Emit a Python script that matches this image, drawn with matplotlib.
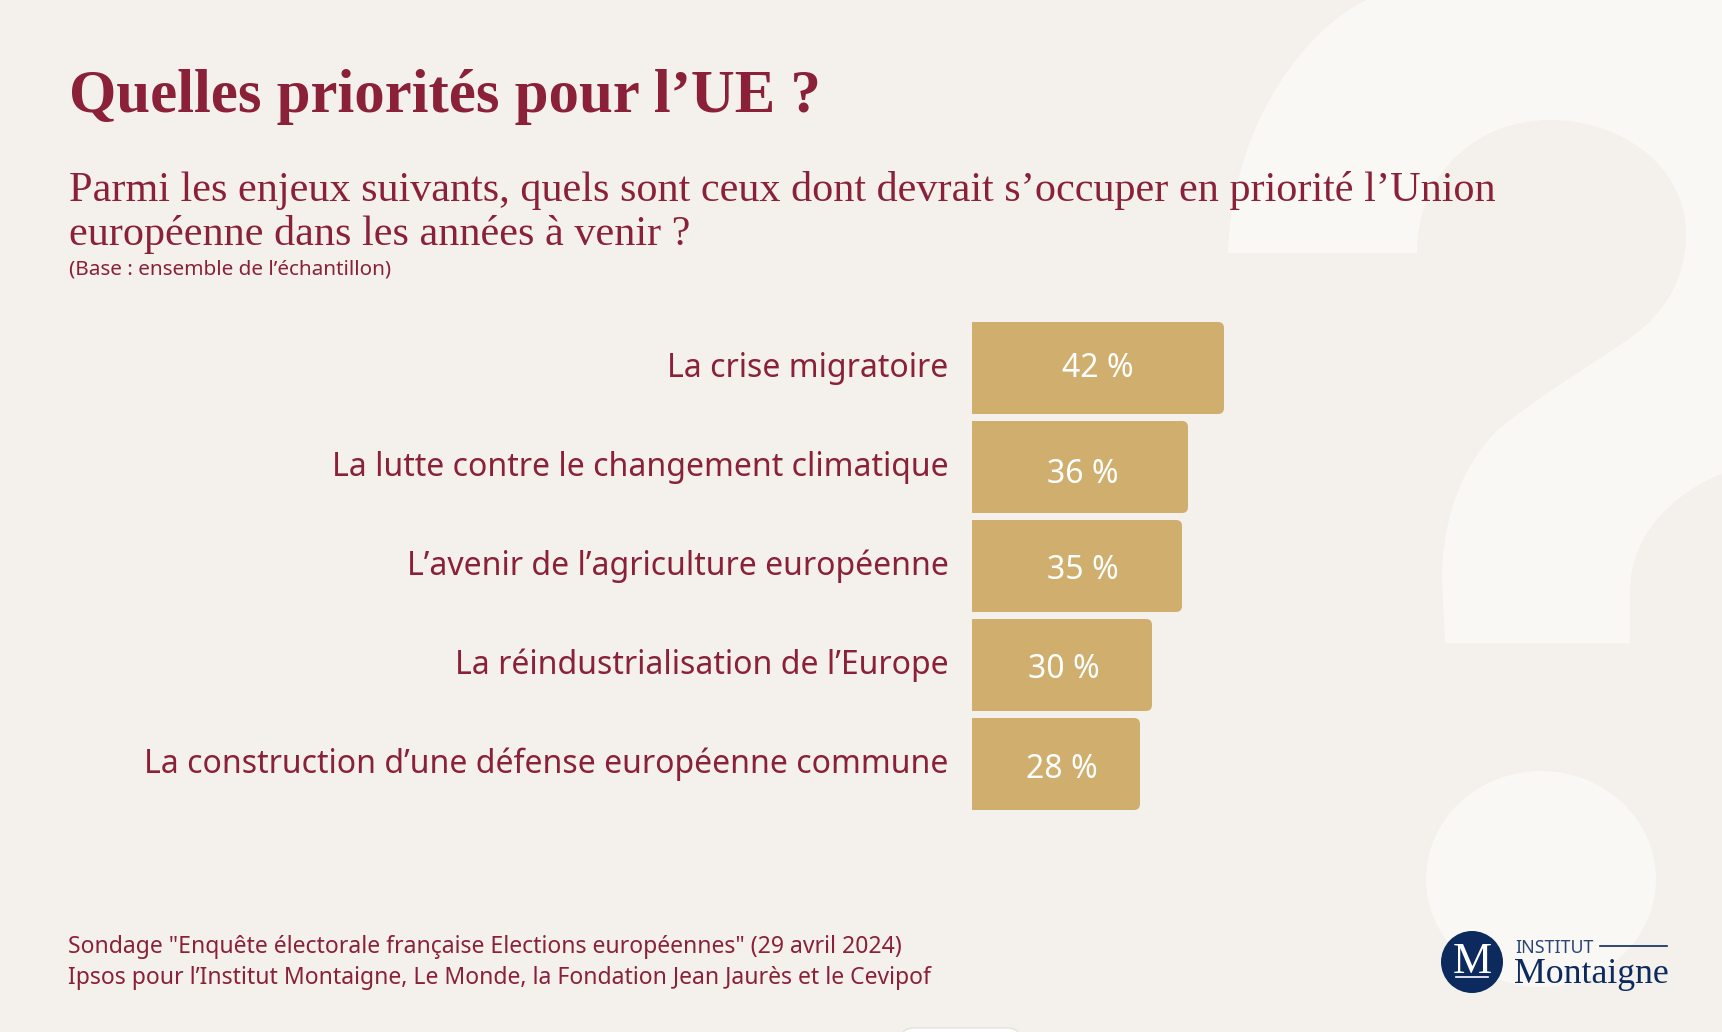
import matplotlib
matplotlib.use('Agg')
import matplotlib.pyplot as plt
from matplotlib.patches import Circle, Ellipse, FancyBboxPatch, PathPatch
from matplotlib.path import Path
from matplotlib.transforms import ScaledTranslation

categories = ['La crise migratoire',
              'La lutte contre le changement climatique',
              'L’avenir de l’agriculture européenne',
              'La réindustrialisation de l’Europe',
              'La construction d’une défense européenne commune']
values = [42, 36, 35, 30, 28]
value_labels = ['42 %', '36 %', '35 %', '30 %', '28 %']

title = 'Quelles priorités pour l’UE ?'
subtitle = ['Parmi les enjeux suivants, quels sont ceux dont devrait s’occuper en priorité l’Union',
            'européenne dans les années à venir ?']
base_note = '(Base : ensemble de l’échantillon)'
source = ['Sondage "Enquête électorale française Elections européennes" (29 avril 2024)',
          'Ipsos pour l’Institut Montaigne, Le Monde, la Fondation Jean Jaurès et le Cevipof']

W, H = 1722, 1032
BG = '#F4F1EC'
PALE = '#F9F8F4'
GOLD = '#D0AE6E'
WINE = '#8A2139'
NAVY = '#0C2A5E'
SERIF = 'Liberation Serif'
SANS = 'Noto Sans'

fig = plt.figure(figsize=(W / 100, H / 100), dpi=100, facecolor=BG)


def px(x, y):
    return x / W, 1 - y / H


def put(x, y, s, size, **kw):
    # size in pixels, y is the baseline
    fig.text(*px(x, y), s, fontsize=size * 0.72, va='baseline', **kw)


# big question mark behind everything, in figure pixels
bg = fig.add_axes([0, 0, 1, 1], zorder=0)
bg.set_xlim(0, W)
bg.set_ylim(H, 0)
bg.axis('off')
C4 = Path.CURVE4
L = Path.LINETO
verts = [(1228, 253),
         (1232, 120), (1310, 25), (1367, 0),
         (1722, 0), (1722, 474),
         (1680, 490), (1630, 530), (1630, 592),
         (1630, 643), (1445, 643), (1442, 579),
         (1442, 515), (1465, 460), (1500, 428),
         (1545, 392), (1590, 366), (1633, 336),
         (1668, 310), (1686, 275), (1686, 234),
         (1686, 165), (1620, 120), (1550, 120),
         (1480, 120), (1417, 170), (1417, 253),
         (1228, 253)]
codes = [Path.MOVETO, C4, C4, C4, L, L, C4, C4, C4,
         L, L, L, C4, C4, C4, C4, C4, C4, C4, C4, C4,
         C4, C4, C4, C4, C4, C4, Path.CLOSEPOLY]
bg.add_patch(PathPatch(Path(verts, codes), fc=PALE, ec='none'))
bg.add_patch(Ellipse((1541, 879), 230, 216, fc=PALE, ec='none'))

# small white tab at the bottom edge
bg.add_patch(FancyBboxPatch((900, 1028), 121, 30, boxstyle='round,pad=0,rounding_size=14',
                            fc='white', ec='#E6E3DE', lw=1))

# bars: 6 px per percent, 99 px per row
ax = fig.add_axes([972 / W, 1 - 813.5 / H, 600 / W, 495 / H], zorder=1)
ax.set_xlim(0, 100)
ax.set_ylim(len(values) - 0.5, -0.5)
ax.patch.set_alpha(0)
for s in ax.spines.values():
    s.set_visible(False)

ypos = list(range(len(values)))
bars = ax.barh(ypos, values, height=92 / 99, color=GOLD)
for b in bars:
    # round only the right-hand corners
    clip = FancyBboxPatch((b.get_x() - 5, b.get_y()), b.get_width() + 5, b.get_height(),
                          boxstyle='round,pad=0,rounding_size=1', mutation_aspect=6 / 99,
                          transform=ax.transData, fc='none', ec='none')
    ax.add_patch(clip)
    b.set_clip_path(clip)

ax.set_yticks(ypos, categories)
ax.tick_params(axis='y', length=0, pad=17, labelsize=32 * 0.72, labelcolor=WINE)
ax.tick_params(axis='x', bottom=False, labelbottom=False)
lift = ScaledTranslation(0, 3.5 / 100, fig.dpi_scale_trans)
for t in ax.get_yticklabels():
    t.set_fontfamily(SANS)
    t.set_transform(t.get_transform() + lift)

# the labels are not quite centred in the original
dx = [0, 2.5, 6, 2, 6]
dy = [0.4, 7.5, 4.5, 4.6, 5.6]
for i, v in enumerate(values):
    ax.annotate(value_labels[i], (v / 2, i), xytext=(dx[i] * 0.72, -dy[i] * 0.72),
                textcoords='offset points', ha='center', va='center',
                color='white', fontsize=32 * 0.72, family=SANS)

put(69, 112, title, 60.8, color=WINE, family=SERIF, fontweight='bold')
put(69, 201, subtitle[0], 42.2, color=WINE, family=SERIF)
put(69, 245, subtitle[1], 42.2, color=WINE, family=SERIF)
put(69, 274, base_note, 20.7, color=WINE, family=SANS)
put(68, 953, source[0], 23, color=WINE, family=SANS)
put(68, 984, source[1], 23, color=WINE, family=SANS)

# logo
bg.add_patch(Circle((1472, 962), 31, fc=NAVY, ec='none'))
put(1472, 973, 'M', 44, color='white', family=SERIF, ha='center')
bg.plot([1456, 1488], [977, 977], color='white', lw=1.2)
put(1515, 953, 'INSTITUT', 17.8, color='#2A4575', family=SANS, fontweight='light')
bg.plot([1600, 1667], [946, 946], color=NAVY, lw=1.2)
put(1514, 983, 'Montaigne', 35.7, color=NAVY, family=SERIF)

fig.savefig('out.png', dpi=100, facecolor=BG)
